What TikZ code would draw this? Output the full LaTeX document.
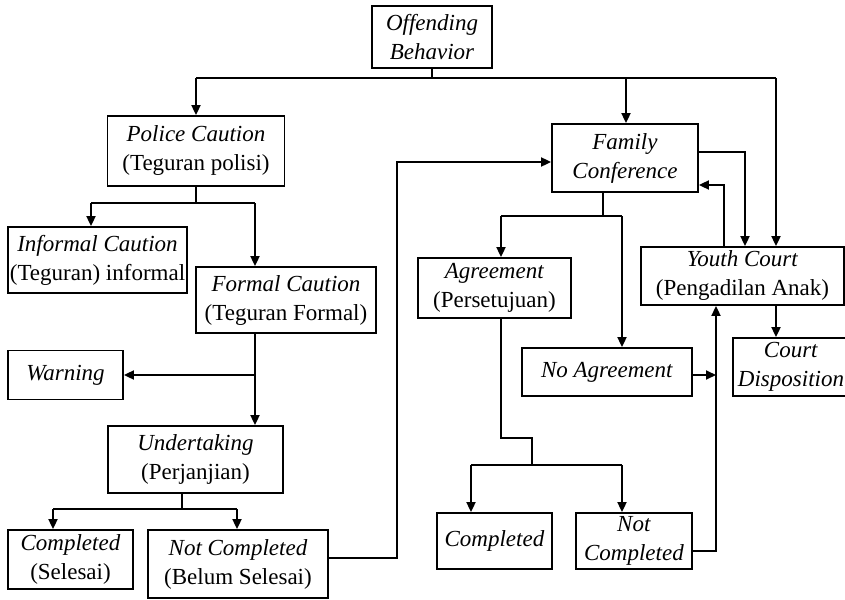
\documentclass[tikz,border=0pt]{standalone}
\usepackage{fontspec}
\setmainfont{Liberation Serif}
\usetikzlibrary{arrows.meta}
\tikzset{
  box/.style={draw, line width=1.8pt, inner sep=0pt, align=center, font=\fontsize{23}{29}\selectfont},
  conn/.style={line width=1.8pt},
  arr/.style={line width=1.8pt, -{Triangle[length=10pt,width=9pt]}},
}
\begin{document}
\begin{tikzpicture}[x=1pt,y=-1pt]
\useasboundingbox (0,0) rectangle (845,599);
% nodes
\node[box, minimum width=120pt, minimum height=62pt] (off) at (432,37) {\textit{Offending}\\\textit{Behavior}};
\node[box, minimum width=177pt, minimum height=70pt] (police) at (196,151) {\textit{Police Caution}\\(Teguran polisi)};
\node[box, minimum width=179pt, minimum height=66pt] (informal) at (97.5,260) {\textit{Informal Caution}\\(Teguran) informal};
\node[box, minimum width=180pt, minimum height=66pt] (formal) at (286,300) {\textit{Formal Caution}\\(Teguran Formal)};
\node[box, minimum width=115pt, minimum height=49pt] (warning) at (65.5,375) {\textit{Warning}};
\node[box, minimum width=175pt, minimum height=67pt] (undert) at (195.5,459.5) {\textit{Undertaking}\\(Perjanjian)};
\node[box, minimum width=125pt, minimum height=59pt] (compA) at (70.5,559.5) {\textit{Completed}\\(Selesai)};
\node[box, minimum width=180pt, minimum height=68pt] (notcompA) at (238,564) {\textit{Not Completed}\\(Belum Selesai)};
\node[box, minimum width=146pt, minimum height=68pt] (family) at (625,158) {\textit{Family}\\\textit{Conference}};
\node[box, minimum width=153pt, minimum height=60pt] (agree) at (494.5,288) {\textit{Agreement}\\(Persetujuan)};
\node[box, minimum width=170pt, minimum height=48pt] (noagree) at (607,372) {\textit{No Agreement}};
\node[box, minimum width=115pt, minimum height=56pt] (compB) at (494.5,541) {\textit{Completed}};
\node[box, minimum width=116pt, minimum height=56pt] (notcompB) at (634,541) {\textit{Not}\\\textit{Completed}};
\node[box, minimum width=203pt, minimum height=58pt] (youth) at (742.5,276) {\textit{Youth Court}\\(Pengadilan Anak)};
\node[box, minimum width=116pt, minimum height=58pt] (court) at (791,367) {\textit{Court}\\\textit{Disposition}};
% junction coordinates
\coordinate (t0) at (432,78);
\coordinate (tL) at (196,78);
\coordinate (tM) at (626,78);
\coordinate (tR) at (776,78);
\coordinate (p1) at (196,203);
\coordinate (pL) at (91,203);
\coordinate (pR) at (255,203);
\coordinate (f1) at (255,375);
\coordinate (u1) at (182,509);
\coordinate (uL) at (53,509);
\coordinate (uR) at (237,509);
\coordinate (nc1) at (397,558);
\coordinate (nc2) at (397,162);
\coordinate (fr1) at (745,152);
\coordinate (fr2) at (724,185);
\coordinate (fs) at (603,216);
\coordinate (fsL) at (501,216);
\coordinate (fsR) at (622,216);
\coordinate (a1) at (501,438);
\coordinate (a2) at (532,438);
\coordinate (a3) at (532,465);
\coordinate (aL) at (471,465);
\coordinate (aR) at (622,465);
\coordinate (n2) at (716,551);
\coordinate (na) at (716,375);
% connectors
\draw[conn] (off.south) -- (t0);
\draw[conn] (tL) -- (tR);
\draw[arr] (tL) -- (tL |- police.north);
\draw[arr] (tM) -- (tM |- family.north);
\draw[arr] (tR) -- (tR |- youth.north);
\draw[conn] (police.south) -- (p1);
\draw[conn] (pL) -- (pR);
\draw[arr] (pL) -- (pL |- informal.north);
\draw[arr] (pR) -- (pR |- formal.north);
\draw[arr] (pR |- formal.south) -- (pR |- undert.north);
\draw[arr] (f1) -- (warning.east);
\draw[conn] (u1 |- undert.south) -- (u1);
\draw[conn] (uL) -- (uR);
\draw[arr] (uL) -- (uL |- compA.north);
\draw[arr] (uR) -- (uR |- notcompA.north);
\draw[arr] (nc1 -| notcompA.east) -- (nc1) -- (nc2) -- (nc2 -| family.west);
\draw[arr] (fr1 -| family.east) -- (fr1) -- (fr1 |- youth.north);
\draw[arr] (fr2 |- youth.north) -- (fr2) -- (fr2 -| family.east);
\draw[conn] (fs |- family.south) -- (fs);
\draw[conn] (fsL) -- (fsR);
\draw[arr] (fsL) -- (fsL |- agree.north);
\draw[arr] (fsR) -- (fsR |- noagree.north);
\draw[conn] (a1 |- agree.south) -- (a1) -- (a2) -- (a3);
\draw[conn] (aL) -- (aR);
\draw[arr] (aL) -- (aL |- compB.north);
\draw[arr] (aR) -- (aR |- notcompB.north);
\draw[arr] (n2 -| notcompB.east) -- (n2) -- (n2 |- youth.south);
\draw[arr] (na -| noagree.east) -- (na);
\draw[arr] (tR |- youth.south) -- (tR |- court.north);
\end{tikzpicture}
\end{document}
